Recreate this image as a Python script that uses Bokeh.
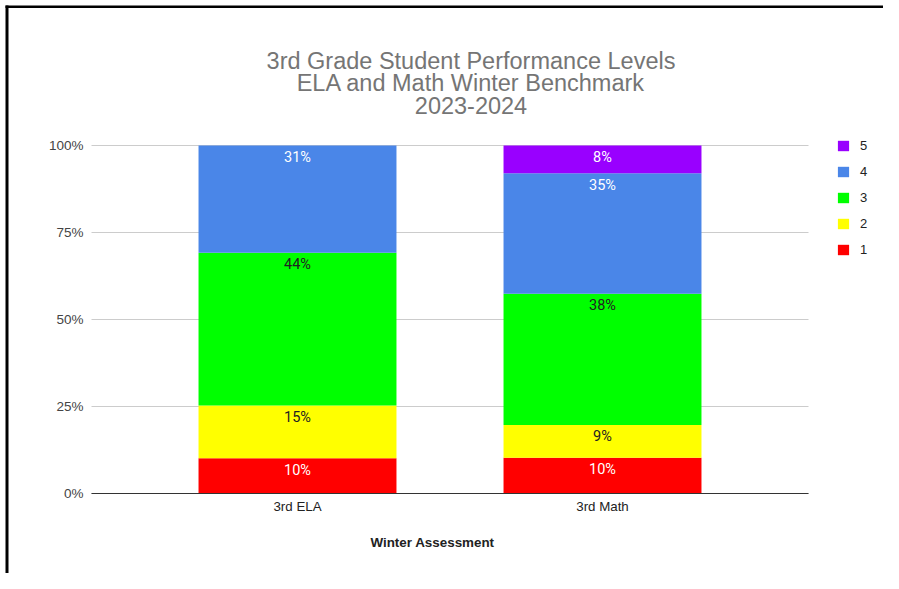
from bokeh.plotting import figure
from bokeh.models import (ColumnDataSource, Range1d, NumeralTickFormatter, FixedTicker,
                          LinearAxis, Grid, Legend, LegendItem, Label, BoxAnnotation)
from bokeh.core.properties import value
from bokeh.embed import file_html
from bokeh.resources import INLINE

# ---------------- data ----------------
categories = ["3rd ELA", "3rd Math"]
levels = ["1", "2", "3", "4", "5"]
level_1 = [10.1, 10.3]
level_2 = [15.2, 9.4]
level_3 = [43.9, 37.7]
level_4 = [30.8, 34.6]
level_5 = [0.0, 8.0]
colors = ["#ff0000", "#ffff00", "#00ff00", "#4a86e8", "#9900ff"]
label_colors = ["#ffffff", "#222222", "#222222", "#ffffff", "#ffffff"]
title_lines = ["3rd Grade Student Performance Levels",
               "ELA and Math Winter Benchmark",
               "2023-2024"]
x_title = "Winter Assessment"
y_ticks = [0, 0.25, 0.5, 0.75, 1.0]

series = [level_1, level_2, level_3, level_4, level_5]
positions = [i + 0.5 for i in range(len(categories))]

# ---------------- layout (pixels in the canvas) ----------------
W, H = 883, 573
AREA_L, AREA_R, AREA_T, AREA_B = 91, 808, 145, 493
PAD = 0.1754
n = len(categories)
ppx = (AREA_R - AREA_L) / (n + 2 * PAD)          # px per category unit
ppy = (AREA_B - AREA_T) / 1.0                     # px per 100 %
x0 = -PAD - AREA_L / ppx
y0 = -(H - AREA_B) / ppy

def X(px):
    return x0 + px / ppx

def Y(py):
    return y0 + (H - py) / ppy

p = figure(width=W, height=H, output_backend="svg", toolbar_location=None,
           x_axis_type=None, y_axis_type=None,
           x_range=Range1d(x0, x0 + W / ppx), y_range=Range1d(y0, y0 + H / ppy),
           min_border=0)
p.outline_line_color = None
p.background_fill_color = "white"
p.border_fill_color = "white"

# grid
grid = Grid(dimension=1, ticker=FixedTicker(ticks=y_ticks), cross_bounds=(-PAD, n + PAD),
            grid_line_color="#cccccc", grid_line_width=1)
p.add_layout(grid)

data = {"x": positions}
for lv, s in zip(levels, series):
    data[lv] = [v / 100.0 for v in s]
src = ColumnDataSource(data)
rends = p.vbar_stack(levels, x="x", width=0.649, color=colors, source=src,
                     line_color=None)

# data labels at top of each segment
for i, lv in enumerate(levels):
    tops, xs, txt = [], [], []
    for j in range(n):
        v = series[i][j]
        if v <= 0:
            continue
        cum = sum(series[k][j] for k in range(i + 1)) / 100.0
        tops.append(cum)
        xs.append(positions[j])
        txt.append("%d%%" % round(v))
    s = ColumnDataSource(dict(x=xs, y=tops, t=txt))
    p.text(x="x", y="y", text="t", source=s, y_offset=12,
           text_align="center", text_baseline="middle",
           text_font=value("Roboto"), text_font_size="14.5px",
           text_color=label_colors[i])

# axes (drawn at fixed places inside the canvas-sized frame)
yaxis = LinearAxis(fixed_location=-PAD, ticker=FixedTicker(ticks=y_ticks),
                   formatter=NumeralTickFormatter(format="0%"))
yaxis.axis_line_color = None
yaxis.major_tick_line_color = None
yaxis.minor_tick_line_color = None
yaxis.major_tick_out = 0
yaxis.minor_tick_out = 0
yaxis.major_label_standoff = 8
yaxis.major_label_text_font = "Liberation Sans"
yaxis.major_label_text_font_size = "13.5px"
yaxis.major_label_text_color = "#444444"
p.add_layout(yaxis, "left")

xaxis = LinearAxis(fixed_location=0, ticker=FixedTicker(ticks=positions),
                   bounds=(-PAD, n + PAD),
                   major_label_overrides={pos: c for pos, c in zip(positions, categories)})
xaxis.axis_line_color = "#333333"
xaxis.axis_line_width = 1
xaxis.major_tick_line_color = None
xaxis.minor_tick_line_color = None
xaxis.major_tick_out = 0
xaxis.minor_tick_out = 0
xaxis.major_label_standoff = 5
xaxis.major_label_text_font = "Liberation Sans"
xaxis.major_label_text_font_size = "13.3px"
xaxis.major_label_text_color = "#222222"
p.add_layout(xaxis, "below")

# title
for line, py in zip(title_lines, [60, 82.5, 105]):
    p.add_layout(Label(x=X(470.5), y=Y(py), text=line,
                       text_align="center", text_baseline="middle",
                       text_font="Liberation Sans", text_font_size="23.5px",
                       text_color="#757575"))

p.add_layout(Label(x=X(432), y=Y(541.7), text=x_title,
                   text_align="center", text_baseline="middle",
                   text_font="Liberation Sans", text_font_size="13.4px",
                   text_font_style="bold", text_color="#222222"))

# frame lines of the screenshot
p.add_layout(BoxAnnotation(left=X(5), bottom=Y(7.5), top=Y(5), fill_color="black",
                           fill_alpha=1, line_color=None))
p.add_layout(BoxAnnotation(left=X(5), right=X(8), top=Y(5), fill_color="black",
                           fill_alpha=1, line_color=None))

# legend
items = [LegendItem(label=lv, renderers=[r]) for lv, r in zip(levels, rends)][::-1]
legend = Legend(items=items, location=(836, H - 256.5), orientation="vertical",
                glyph_width=14, glyph_height=13, label_height=13, spacing=11,
                padding=0, margin=0, border_line_color=None,
                background_fill_alpha=0, label_standoff=10,
                label_text_font="Liberation Sans", label_text_font_size="13px",
                label_text_color="#222222", label_text_baseline="middle")
p.add_layout(legend, "center")

open("out.html", "w").write(file_html(p, INLINE))
